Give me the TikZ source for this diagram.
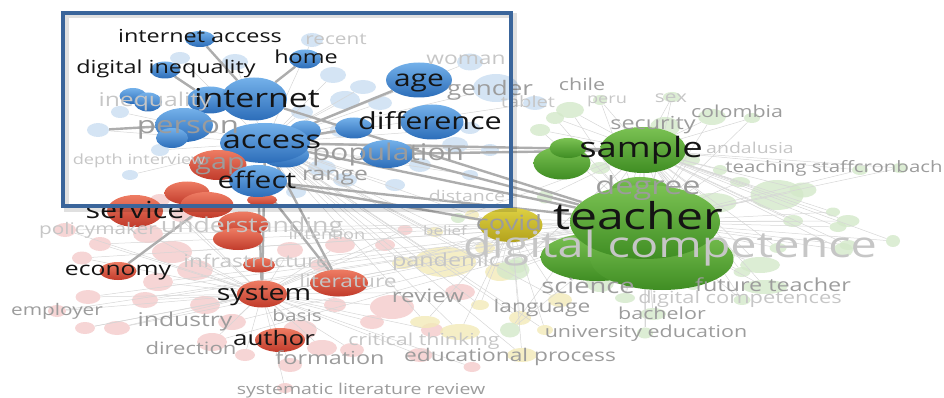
\documentclass[tikz,border=0pt]{standalone}
\usepackage{fontspec}
\setmainfont{Open Sans}[FakeStretch=1.3]
\usetikzlibrary{shapes.geometric}

\definecolor{blueA}{HTML}{74B1EA}
\definecolor{blueB}{HTML}{2C6DB9}
\definecolor{redA}{HTML}{EE7C63}
\definecolor{redB}{HTML}{C13B2B}
\definecolor{greenA}{HTML}{7BC253}
\definecolor{greenB}{HTML}{3F8D23}
\definecolor{yellowA}{HTML}{DDD042}
\definecolor{yellowB}{HTML}{B3A21C}
\definecolor{blueL}{HTML}{C9DDF1}
\definecolor{redL}{HTML}{F4CACA}
\definecolor{greenL}{HTML}{D3E8C9}
\definecolor{yellowL}{HTML}{F2EAB8}
\definecolor{frameblue}{HTML}{3A659B}
\definecolor{edgegray}{HTML}{ADADAD}
\definecolor{webgray}{HTML}{D6D6D6}
\definecolor{labgray}{HTML}{9C9C9C}
\definecolor{labfaint}{HTML}{C6C6C6}

\pgfdeclarelayer{faint}
\pgfdeclarelayer{edges}
\pgfsetlayers{faint,edges,main}

\tikzset{
  bub/.style 2 args={ellipse, inner sep=0pt, draw=none, minimum width=#1pt, minimum height=#2pt},
  bblue/.style 2 args={bub={#1}{#2}, top color=blueA, bottom color=blueB},
  bred/.style 2 args={bub={#1}{#2}, top color=redA, bottom color=redB},
  bgreen/.style 2 args={bub={#1}{#2}, top color=greenA, bottom color=greenB},
  byellow/.style 2 args={bub={#1}{#2}, top color=yellowA, bottom color=yellowB},
  lite/.style n args={3}{bub={#1}{#2}, fill=#3, fill opacity=.8},
  kw/.style={anchor=base, inner sep=0pt, text=black!92, font=\fontsize{#1}{#1}\selectfont, yshift=-0.27*#1pt},
  kwgray/.style={kw=#1, text=labgray},
  kwfaint/.style={kw=#1, text=labfaint},
  link/.style={draw=edgegray, line width=2.4pt},
  web/.style={draw=webgray, line width=.5pt},
}

\begin{document}
\begin{tikzpicture}[x=1pt,y=-1pt]
\useasboundingbox (0,0) rectangle (944,398);

% faded bubbles
\begin{pgfonlayer}{faint}
\foreach \x/\y/\w/\h [count=\i] in {98/130/22/14, 160/150/18/12, 130/175/16/10, 235/62/26/16,
    180/58/20/12, 312/40/22/14, 333/75/26/16, 345/100/30/18, 302/112/22/14, 363/87/26/14,
    380/103/24/14, 322/168/28/16, 345/180/24/14, 296/192/20/12, 420/165/22/14, 455/145/26/16,
    470/128/20/12, 470/62/26/17, 496/88/46/28, 535/103/24/14, 490/150/18/12, 470/175/16/10,
    395/185/20/12, 120/112/18/12, 340/130/20/14}
  \node[lite={\w}{\h}{blueL}] (lb\i) at (\x,\y) {};
\foreach \x/\y/\w/\h [count=\i] in {65/230/22/14, 82/258/20/13, 100/244/22/14, 148/234/30/18,
    172/252/40/22, 195/270/36/20, 158/282/30/18, 145/300/26/16, 88/297/25/14, 85/328/20/12,
    117/328/26/14, 57/311/18/12, 205/305/30/18, 232/322/28/16, 212/342/30/18, 300/330/34/20,
    322/348/30/16, 352/350/24/14, 372/322/24/14, 392/307/44/24, 432/330/22/14, 460/292/30/16,
    340/245/30/16, 385/245/20/12, 405/230/15/10, 290/250/26/16, 320/265/20/12, 420/355/25/14,
    472/367/17/10, 285/388/16/10, 335/305/22/14, 290/365/24/14, 245/355/20/12, 182/215/24/14,
    160/200/20/12}
  \node[lite={\w}{\h}{redL}] (lr\i) at (\x,\y) {};
\foreach \x/\y/\w/\h [count=\i] in {445/262/62/30, 403/263/22/12, 485/248/20/12, 500/272/30/18,
    425/322/30/12, 460/332/40/16, 522/355/30/14, 560/300/24/14, 520/318/22/14, 435/232/16/10,
    480/305/18/10, 545/330/16/10, 472/215/14/10}
  \node[lite={\w}{\h}{yellowL}] (ly\i) at (\x,\y) {};
\foreach \x/\y/\w/\h [count=\i] in {570/110/28/16, 600/100/14/10, 540/130/20/12, 555/118/18/12,
    600/168/20/12, 665/127/30/20, 712/117/28/16, 752/118/16/10, 672/97/18/10, 740/182/20/10,
    777/195/53/30, 803/190/27/15, 793/221/20/12, 833/212/14/9, 848/221/23/12, 838/227/17/10,
    893/241/14/12, 848/245/17/10, 713/203/47/20, 760/265/40/16, 742/272/17/10, 765/287/45/14,
    742/300/17/10, 778/248/17/10, 843/250/20/14, 653/314/26/12, 645/333/16/11, 693/285/14/10,
    513/270/33/20, 545/197/16/13, 458/218/14/10, 510/330/20/15, 518/265/18/16, 625/298/20/10,
    600/283/28/18, 700/230/24/16, 725/255/20/12, 860/170/16/10, 900/168/16/10, 690/160/20/12,
    720/170/14/10}
  \node[lite={\w}{\h}{greenL}] (lg\i) at (\x,\y) {};
\end{pgfonlayer}

% blue cluster
\node[bblue={30}{16}] (ia) at (200,39) {};
\node[bblue={32}{19}] (home) at (305,59) {};
\node[bblue={30}{17}] (diq) at (165,70) {};
\node[bblue={46}{27}] (internetB) at (210,100) {};
\node[bblue={66}{43}] (internet) at (254,99) {};
\node[bblue={27}{16}] (blA) at (133,96) {};
\node[bblue={28}{19}] (blB) at (148,102) {};
\node[bblue={58}{34}] (person) at (184,125) {};
\node[bblue={32}{20}] (personB) at (172,138) {};
\node[bblue={32}{21}] (accessB) at (305,131) {};
\node[bblue={48}{25}] (accessC) at (285,155) {};
\node[bblue={90}{40}] (access) at (265,143) {};
\node[bblue={66}{35}] (age) at (419,80) {};
\node[bblue={38}{21}] (differenceB) at (354,128) {};
\node[bblue={63}{35}] (difference) at (432,122) {};
\node[bblue={53}{28}] (population) at (387,154) {};

% red cluster
\node[bred={57}{30}] (gap) at (218,165) {};
\node[bred={30}{12}] (rTiny) at (262,200) {};
\node[bred={45}{23}] (rA) at (187,193) {};
\node[bred={53}{26}] (rB) at (207,205) {};
\node[bblue={58}{32}] (effect) at (258,181) {};
\node[bred={56}{32}] (service) at (135,211) {};
\node[bred={50}{25}] (understanding) at (243,224) {};
\node[bred={50}{22}] (understandingB) at (238,239) {};
\node[bred={32}{15}] (rSmall) at (259,265) {};
\node[bred={58}{27}] (literature) at (339,283) {};
\node[bred={50}{27}] (system) at (262,294) {};
\node[bred={50}{24}] (author) at (280,340) {};
\node[bred={37}{18}] (economy) at (118,271) {};

% green cluster
\node[bgreen={57}{33}] (gB) at (562,163) {};
\node[bgreen={37}{20}] (gC) at (568,148) {};
\node[bgreen={86}{46}] (sample) at (643,150) {};
\node[bgreen={60}{30}] (degree) at (640,192) {};
\node[bgreen={113}{48}] (teacherC) at (597,257) {};
\node[bgreen={143}{62}] (teacherB) at (662,259) {};
\node[bgreen={150}{74}] (teacher) at (645,222) {};

% yellow
\node[byellow={63}{34}] (covid) at (511,225) {};

% links
\begin{pgfonlayer}{edges}
\foreach \j in {1,...,41} \path[web] (teacher) edge (lg\j) (sample) edge (lg\j);
\foreach \j in {1,...,25} \path[web] (access) edge (lb\j);
\foreach \j in {1,...,35} \path[web] (system) edge (lr\j);
\foreach \j in {1,...,13} \path[web] (covid) edge (ly\j) (access) edge (ly\j);
\foreach \j in {1,...,15} \path[web] (teacher) edge (lr\j);
\path[link]
  (ia) edge (internet)
  (home) edge (internet)
  (diq) edge (internetB)
  (age) edge (access)
  (differenceB) edge (access)
  (access) edge (sample)
  (population) edge (sample)
  (access) edge (teacher)
  (population) edge (teacher)
  (effect) edge (teacher)
  (internet) edge (teacher)
  (effect) edge (system)
  (access) edge (system)
  (effect) edge (literature)
  (access) edge (literature)
  (economy) edge (rB)
  (person) edge (lb1)
  (effect) edge (covid);
\end{pgfonlayer}

% keywords
\node[kw=18] (t-ia) at (200,38) {internet access};
\node[kw=18] (t-home) at (306,59) {home};
\node[kw=18] (t-diq) at (166,69) {digital inequality};
\node[kw=26] (t-internet) at (257,100) {internet};
\node[kw=23] (t-age) at (419,80) {age};
\node[kw=23.5] (t-difference) at (430,123) {difference};
\node[kw=25] (t-access) at (272,142) {access};
\node[kw=23] (t-effect) at (257,182) {effect};
\node[kw=23.5] (t-service) at (135,212) {service};
\node[kw=19] (t-economy) at (118,270) {economy};
\node[kw=22] (t-system) at (264,295) {system};
\node[kw=20] (t-author) at (274,340) {author};
\node[kw=28] (t-sample) at (641,150) {sample};
\node[kw=37] (t-teacher) at (638,220) {teacher};

\node[kwgray=23] (t-population) at (388,154) {population};
\node[kwgray=24] (t-person) at (188,127) {person};
\node[kwgray=22] (t-gap) at (220,164) {gap};
\node[kwgray=19] (t-range) at (335,175) {range};
\node[kwgray=25] (t-degree) at (648,188) {degree};
\node[kwfaint=36] (t-digcomp) at (670,248) {digital competence};
\node[kwgray=21] (t-covid) at (509,225) {covid};
\node[kwgray=16.5] (t-chile) at (582,86) {chile};
\node[kwgray=20] (t-gender) at (490,90) {gender};
\node[kwgray=16.5] (t-colombia) at (737,113) {colombia};
\node[kwgray=18] (t-security) at (653,125) {security};
\node[kwgray=15.7] (t-staff) at (834,168) {teaching staffcronbach};
\node[kwgray=18.5] (t-review) at (428,298) {review};
\node[kwgray=21] (t-science) at (588,288) {science};
\node[kwgray=17.5] (t-language) at (542,308) {language};
\node[kwgray=18] (t-future) at (773,287) {future teacher};
\node[kwgray=16.5] (t-bachelor) at (662,315) {bachelor};
\node[kwgray=16.5] (t-univ) at (646,333) {university education};
\node[kwgray=17.5] (t-edproc) at (510,357) {educational process};
\node[kwgray=18] (t-formation) at (330,360) {formation};
\node[kwgray=17] (t-direction) at (191,350) {direction};
\node[kwgray=19] (t-industry) at (185,321) {industry};
\node[kwgray=16] (t-employer) at (57,311) {employer};
\node[kwgray=16] (t-basis) at (297,317) {basis};
\node[kwgray=15] (t-slr) at (361,390) {systematic literature review};
\node[kwfaint=16.5] (t-critical) at (424,341) {critical thinking};

\node[kwfaint=16] (t-recent) at (336,40) {recent};
\node[kwfaint=17.5] (t-woman) at (466,60) {woman};
\node[kwfaint=15.5] (t-tablet) at (528,103) {tablet};
\node[kwfaint=14] (t-peru) at (607,100) {peru};
\node[kwfaint=16] (t-sex) at (671,98) {sex};
\node[kwfaint=15] (t-andalusia) at (750,149) {andalusia};
\node[kwfaint=19] (t-inequality) at (155,101) {inequality};
\node[kwfaint=14] (t-depth) at (139,161) {depth interview};
\node[kwfaint=15] (t-distance) at (467,197) {distance};
\node[kwfaint=16] (t-policy) at (98,230) {policymaker};
\node[kwfaint=20.5] (t-understanding) at (252,227) {understanding};
\node[kwfaint=14] (t-intention) at (327,236) {intention};
\node[kwfaint=17.5] (t-infra) at (256,263) {infrastructure};
\node[kwfaint=17.5] (t-literature) at (348,283) {literature};
\node[kwfaint=18] (t-pandemic) at (446,262) {pandemic};
\node[kwfaint=13] (t-belief) at (445,232) {belief};
\node[kwfaint=16.8] (t-digcomps) at (740,299) {digital competences};

% highlight frame
\draw[line width=5pt, black, opacity=.12] (66,16) rectangle (514,209);
\draw[line width=4pt, frameblue] (63,13) rectangle (511,206);
\end{tikzpicture}
\end{document}
